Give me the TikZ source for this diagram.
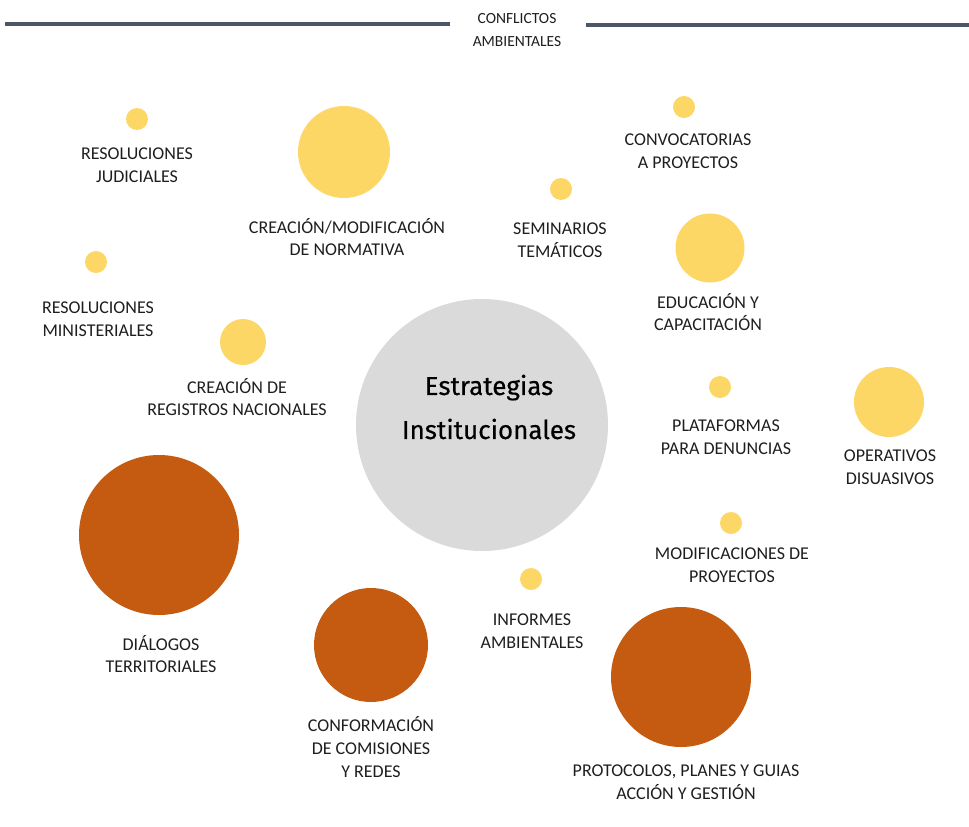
\documentclass[tikz,border=0pt]{standalone}
\usepackage{fontspec}
\setmainfont{Carlito}
\newfontfamily\centerfont[FakeBold=0.4]{Fira Sans}
\definecolor{dotyellow}{HTML}{FDD766}
\definecolor{dotbrown}{HTML}{C55A11}
\definecolor{centergray}{HTML}{DADADA}
\definecolor{headline}{HTML}{4B5667}
\definecolor{labeltext}{HTML}{1E1E1E}
\begin{document}
\begin{tikzpicture}[x=1pt,y=-1pt,
  ydot/.style={circle,fill=dotyellow,inner sep=0pt,minimum size=#1},
  bdot/.style={circle,fill=dotbrown,inner sep=0pt,minimum size=#1},
  lbl/.style={align=center,text=labeltext,inner sep=0pt,font=\fontsize{18}{22.8}\selectfont},
  hdr/.style={align=center,text=labeltext,inner sep=0pt,font=\fontsize{15.5}{23}\selectfont}]
\useasboundingbox (0,0) rectangle (969,827);
% header
\coordinate (hl1) at (5,24);
\coordinate (hl2) at (450,24);
\coordinate (hr1) at (586,25);
\coordinate (hr2) at (969,25);
\draw[headline,line width=4pt] (hl1) -- (hl2);
\draw[headline,line width=4pt] (hr1) -- (hr2);
\node[hdr] (title) at (517,30) {CONFLICTOS\\AMBIENTALES};
% center
\node[circle,fill=centergray,inner sep=0pt,minimum size=252] (center) at (482,425) {};
\node[align=center,inner sep=0pt,text=black,font=\centerfont\fontsize{26}{44}\selectfont] (ctext) at (489,407) {Estrategias\\Institucionales};
% yellow
\node[ydot=22] (d1) at (137,119) {};
\node[lbl] (l1) at (137,165) {RESOLUCIONES\\JUDICIALES};
\node[ydot=92] (d2) at (344,152) {};
\node[lbl] (l2) at (347,237) {CREACIÓN/MODIFICACIÓN\\DE NORMATIVA};
\node[ydot=22] (d3) at (96,262) {};
\node[lbl] (l3) at (98,319) {RESOLUCIONES\\MINISTERIALES};
\node[ydot=46] (d4) at (243,342) {};
\node[lbl] (l4) at (237,397) {CREACIÓN DE\\REGISTROS NACIONALES};
\node[ydot=22] (d5) at (684,107) {};
\node[lbl] (l5) at (688,151) {CONVOCATORIAS\\A PROYECTOS};
\node[ydot=22] (d6) at (561,189) {};
\node[lbl] (l6) at (560,240) {SEMINARIOS\\TEMÁTICOS};
\node[ydot=69] (d7) at (710,248) {};
\node[lbl] (l7) at (708,312) {EDUCACIÓN Y\\CAPACITACIÓN};
\node[ydot=22] (d8) at (720,387) {};
\node[lbl] (l8) at (726,437) {PLATAFORMAS\\PARA DENUNCIAS};
\node[ydot=70] (d9) at (889,402) {};
\node[lbl] (l9) at (890,467) {OPERATIVOS\\DISUASIVOS};
\node[ydot=22] (d10) at (731,523) {};
\node[lbl] (l10) at (732,565) {MODIFICACIONES DE\\PROYECTOS};
\node[ydot=22] (d11) at (531,579) {};
\node[lbl] (l11) at (532,631) {INFORMES\\AMBIENTALES};
% brown
\node[bdot=160] (b1) at (159,535) {};
\node[lbl] (lb1) at (161,654) {DIÁLOGOS\\TERRITORIALES};
\node[bdot=114] (b2) at (371,645) {};
\node[lbl] (lb2) at (371,747) {CONFORMACIÓN\\DE COMISIONES\\Y REDES};
\node[bdot=140] (b3) at (681,677) {};
\node[lbl] (lb3) at (686,782) {PROTOCOLOS, PLANES Y GUIAS\\ACCIÓN Y GESTIÓN};
\end{tikzpicture}
\end{document}
